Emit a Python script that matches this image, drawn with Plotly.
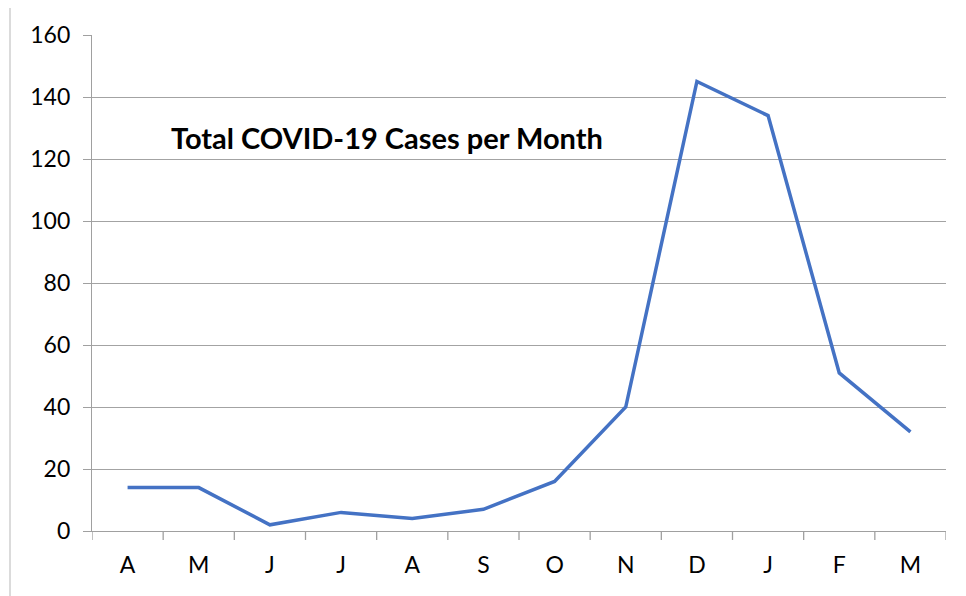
import plotly.graph_objects as go

months = ["A", "M", "J", "J", "A", "S", "O", "N", "D", "J", "F", "M"]
cases = [14, 14, 2, 6, 4, 7, 16, 40, 145, 134, 51, 32]
y_ticks = [0, 20, 40, 60, 80, 100, 120, 140, 160]
title_text = "Total COVID-19 Cases per Month"

positions = list(range(len(months)))

fig = go.Figure()
fig.add_trace(go.Scatter(
    x=positions, y=cases, mode="lines",
    line=dict(color="#4472C4", width=3.5),
    hoverinfo="y",
))

# page body has an 8px margin; compensate so the chart lands where the reference is
OFF = 8
W, H = 966 - OFF, 596 - OFF
ml, mr, mt, mb = 92 - OFF, 20, 33 - OFF, 65
pw = W - ml - mr
ph = H - mt - mb

fig.update_layout(
    width=W, height=H,
    margin=dict(l=ml, r=mr, t=mt, b=mb),
    paper_bgcolor="white", plot_bgcolor="white",
    showlegend=False,
    font=dict(family="Lato, Liberation Sans, sans-serif", color="#000000", size=23),
    xaxis=dict(
        range=[-0.5, len(months) - 0.5],
        tickmode="array",
        tickvals=positions,
        ticktext=months,
        showgrid=False,
        showline=True, linecolor="#a0a0a0", linewidth=1.3,
        zeroline=False,
        ticks="", ticklabelstandoff=13,
    ),
    yaxis=dict(
        range=[0, 160],
        tickmode="array", tickvals=y_ticks,
        showgrid=True, gridcolor="#a3a3a3", gridwidth=1.3,
        showline=True, linecolor="#a0a0a0", linewidth=1.3,
        zeroline=False,
        ticks="outside", ticklen=8, tickcolor="#a0a0a0", tickwidth=1.3,
        ticklabelstandoff=8,
    ),
    annotations=[dict(
        text="<b>" + title_text + "</b>",
        xref="paper", yref="paper",
        x=(387 - 92) / pw, y=1 - (136 - 33) / ph,
        xanchor="center", yanchor="middle",
        showarrow=False,
        font=dict(size=29, family="Lato, Liberation Sans, sans-serif", color="#000000"),
    )],
)

# category boundary tick marks below the x axis
boundary_shapes = []
for i in range(len(months) + 1):
    boundary_shapes.append(dict(
        type="line", xref="x", yref="paper",
        x0=i - 0.5, x1=i - 0.5, y0=0, y1=-9 / ph,
        line=dict(color="#a0a0a0", width=1.3),
    ))
# outer chart border
boundary_shapes.append(dict(
    type="rect", xref="paper", yref="paper",
    x0=(10 - 92) / pw, x1=1.2, y0=-0.3, y1=1 + (33 - 4) / ph,
    line=dict(color="#d0d0d0", width=1.5), fillcolor="rgba(0,0,0,0)",
    layer="below",
))
fig.update_layout(shapes=boundary_shapes)

fig.write_html("out.html")
